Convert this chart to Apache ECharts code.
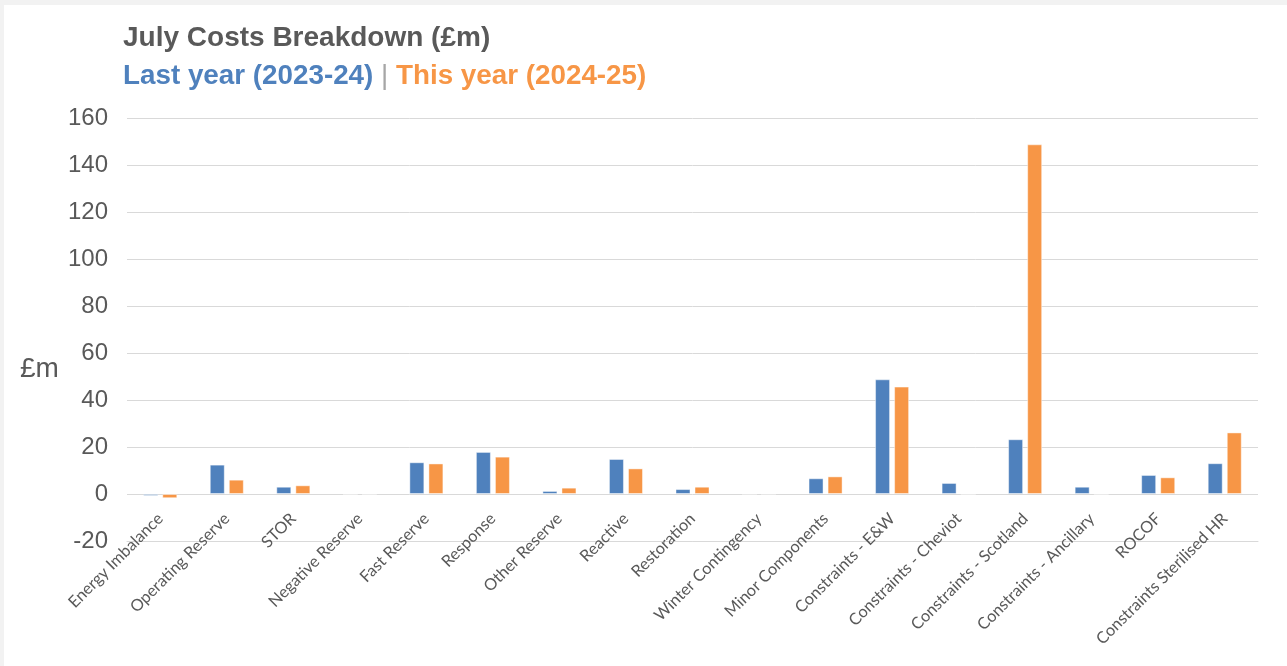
<!DOCTYPE html>
<html>
<head>
<meta charset="utf-8">
<script src="https://cdn.jsdelivr.net/npm/echarts@6/dist/echarts.min.js"></script>
<style>
  html, body { margin: 0; padding: 0; background: #f2f2f2; }
  #card { position: absolute; left: 4px; top: 5px; width: 1283px; height: 661px; background: #ffffff; }
  #chart { position: absolute; left: 0; top: 0; width: 1287px; height: 666px; }
</style>
</head>
<body>
<div id="card"></div>
<div id="chart"></div>
<script>
// Cost categories on the x axis
const categories = [
  'Energy Imbalance', 'Operating Reserve', 'STOR', 'Negative Reserve', 'Fast Reserve',
  'Response', 'Other Reserve', 'Reactive', 'Restoration', 'Winter Contingency',
  'Minor Components', 'Constraints - E&W', 'Constraints - Cheviot', 'Constraints - Scotland',
  'Constraints - Ancillary', 'ROCOF', 'Constraints Sterilised HR'
];

// July costs, £m
const lastYear = [-0.8, 12.5, 3.1, -0.1, 13.5, 17.9, 1.3, 14.9, 2.1, 0, 6.7, 48.8, 4.7, 23.3, 3.1, 8.1, 13.1];
const thisYear = [-1.8, 6.1, 3.7, -0.1, 13.0, 15.9, 2.7, 10.9, 3.1, 0, 7.5, 45.7, -0.1, 148.8, -0.1, 7.1, 26.2];

// Value axis range and step
const yMin = -20;
const yMax = 160;
const yStep = 20;

const BLUE = '#4f81bd';
const ORANGE = '#f79646';
const GREY_TEXT = '#595959';
const FONT = 'Liberation Sans, Arial, sans-serif';

const chart = echarts.init(document.getElementById('chart'), null, { renderer: 'canvas' });

chart.setOption({
  backgroundColor: 'transparent',
  animation: false,
  title: {
    text: 'July Costs Breakdown (£m)',
    subtext: '{a|Last year (2023-24)}{s| | }{b|This year (2024-25)}',
    left: 118,
    top: 19,
    itemGap: 10,
    textStyle: { fontFamily: FONT, fontSize: 28, fontWeight: 'bold', color: GREY_TEXT },
    subtextStyle: {
      fontFamily: FONT,
      fontSize: 28,
      fontWeight: 'bold',
      rich: {
        a: { color: BLUE, fontSize: 27.8, fontWeight: 'bold', fontFamily: FONT },
        s: { color: '#a6a6a6', fontSize: 27.8, fontWeight: 'normal', fontFamily: FONT },
        b: { color: ORANGE, fontSize: 27.8, fontWeight: 'bold', fontFamily: FONT }
      }
    }
  },
  graphic: [{
    type: 'text',
    left: 20,
    top: 355,
    style: { text: '£m', fontFamily: FONT, fontSize: 28, fill: GREY_TEXT }
  }],
  grid: {
    left: 127,
    width: 1131,
    top: 118,
    height: 423,
    containLabel: false
  },
  xAxis: {
    type: 'category',
    data: categories,
    axisLine: { onZero: false, lineStyle: { color: '#d9d9d9', width: 1 } },
    axisTick: { show: false },
    axisLabel: {
      interval: 0,
      rotate: 45,
      margin: -25,
      fontFamily: 'Lato, "Open Sans", sans-serif',
      fontSize: 16.3,
      color: GREY_TEXT
    }
  },
  yAxis: {
    type: 'value',
    min: yMin,
    max: yMax,
    interval: yStep,
    axisLine: { show: false },
    axisTick: { show: false },
    axisLabel: { margin: 19, fontFamily: FONT, fontSize: 24, color: GREY_TEXT },
    splitLine: { lineStyle: { color: '#d9d9d9', width: 1 } }
  },
  series: [
    {
      name: 'Last year (2023-24)',
      type: 'bar',
      data: lastYear,
      barWidth: 15,
      barGap: '27%',
      itemStyle: { color: BLUE, borderColor: 'rgba(255,255,255,0.45)', borderWidth: 1 }
    },
    {
      name: 'This year (2024-25)',
      type: 'bar',
      data: thisYear,
      barWidth: 15,
      itemStyle: { color: ORANGE, borderColor: 'rgba(255,255,255,0.45)', borderWidth: 1 }
    }
  ]
});
</script>
</body>
</html>
